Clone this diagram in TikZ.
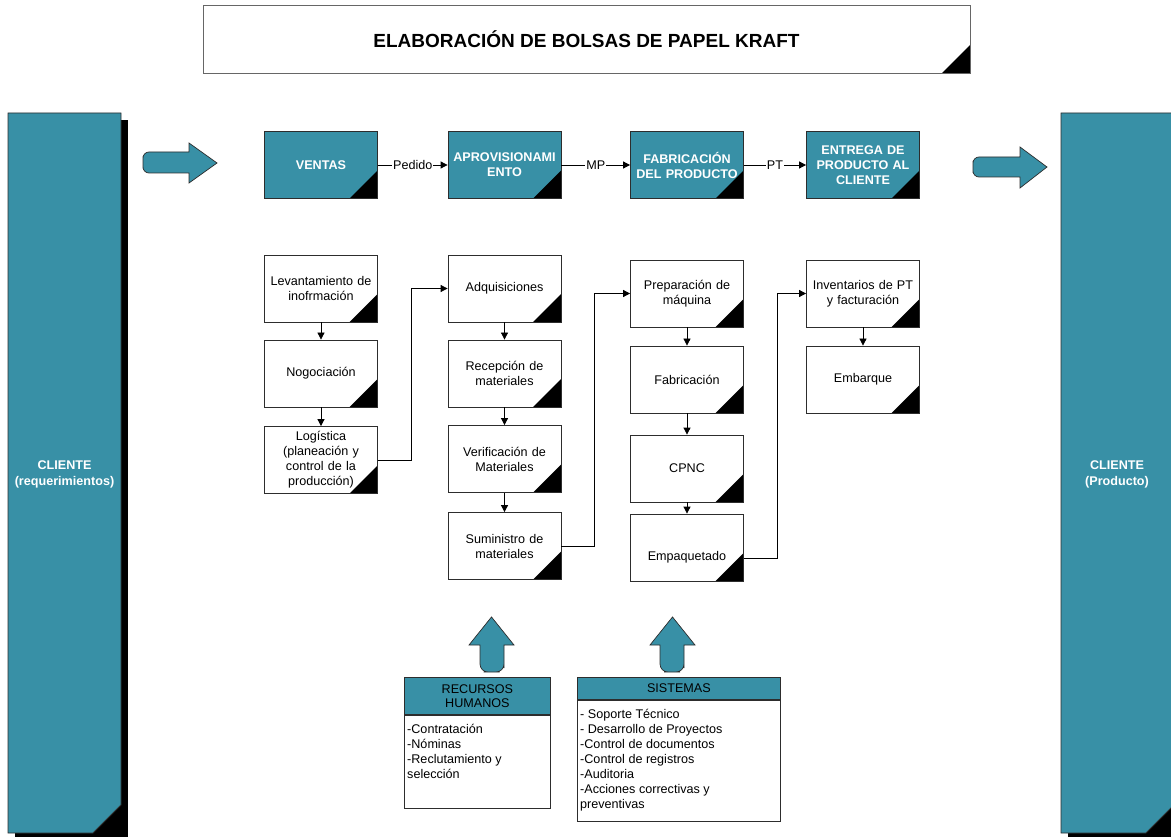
\documentclass[tikz,border=0pt]{standalone}
\usepackage{fontspec}
\setmainfont{Liberation Sans}
\usetikzlibrary{arrows.meta}
\definecolor{tealfill}{RGB}{56,144,166}
\definecolor{edgegray}{RGB}{45,45,45}

\tikzset{
  foldbox/.style={rectangle, draw=edgegray, line width=0.8pt,
    minimum width=113pt, minimum height=67pt, inner sep=2pt,
    text width=109pt, align=center,
    path picture={\fill[black] (path picture bounding box.south east)
      -- ++(-28pt,0pt) -- ++(28pt,28pt) -- cycle;}},
  stagebox/.style={foldbox, fill=tealfill, text=white,
    font=\bfseries\fontsize{12.6}{15}\selectfont},
  taskbox/.style={foldbox, fill=white, font=\fontsize{12.6}{15}\selectfont},
  titlebox/.style={rectangle, draw=gray!80!black, line width=0.8pt, fill=white,
    minimum width=767pt, minimum height=68pt, inner sep=0pt,
    font=\bfseries\fontsize{19}{22}\selectfont,
    path picture={\fill[black] (path picture bounding box.south east)
      -- ++(-28pt,0pt) -- ++(28pt,28pt) -- cycle;}},
  flow/.style={draw=black, line width=0.8pt, -{Triangle[length=7pt,width=7pt]}},
  flowlabel/.style={fill=white, inner sep=1pt, font=\fontsize{12.6}{15}\selectfont},
  blockarrow/.style={fill=tealfill, draw=edgegray, line width=0.7pt},
  clientcol/.style={fill=tealfill, draw=edgegray, line width=0.8pt},
  clienttext/.style={text=white, align=center,
    font=\bfseries\fontsize{12.6}{16}\selectfont},
  headbox/.style={rectangle, draw=edgegray, line width=0.8pt, fill=tealfill,
    inner sep=0pt, align=center, anchor=north west,
    font=\fontsize{12.6}{14}\selectfont},
  bodybox/.style={rectangle, draw=edgegray, line width=0.8pt, fill=white,
    inner sep=0pt, anchor=north west},
  listtext/.style={inner sep=0pt, anchor=north west, align=left,
    font=\fontsize{12.6}{15}\selectfont}
}

\begin{document}
\begin{tikzpicture}[x=1pt,y=-1pt]
\useasboundingbox (0,0) rectangle (1171,837);
\clip (0,0) rectangle (1171,837);

% title
\node[titlebox] (title) at (586.5,39) {ELABORACIÓN DE BOLSAS DE PAPEL KRAFT};

% client columns with drop shadow and folded corner
\fill[black] (15,120) rectangle (128,845);
\draw[clientcol] (8,113) -- (121,113) -- (121,805) -- (93,833) -- (8,833) -- cycle;
\node[clienttext] (clientL) at (64.5,474) {CLIENTE\\(requerimientos)};

\fill[black] (1068,120) rectangle (1185,845);
\draw[clientcol] (1061,113) -- (1174,113) -- (1174,805) -- (1146,833) -- (1061,833) -- cycle;
\node[clienttext] (clientR) at (1117,474) {CLIENTE\\(Producto)};

% entry and exit block arrows
\draw[blockarrow] (143,162.5) [rounded corners=6pt] -- (143,173) -- (170,173)
  [sharp corners] -- (189,173) -- (189,183) -- (217,163) -- (189,143) -- (189,152)
  -- (170,152) [rounded corners=6pt] -- (143,152) -- cycle;
\draw[blockarrow] (973,167) [rounded corners=6pt] -- (973,177) -- (1000,177)
  [sharp corners] -- (1020,177) -- (1020,188) -- (1047,167) -- (1020,147) -- (1020,157)
  -- (1000,157) [rounded corners=6pt] -- (973,157) -- cycle;

% main stages
\node[stagebox] (ventas) at (321,165) {VENTAS};
\node[stagebox] (aprov) at (504.5,165) {APROVISIONAMI\\ENTO};
\node[stagebox] (fabric) at (687,165) {FABRICACIÓN\\DEL PRODUCTO};
\node[stagebox] (entrega) at (863,165) {ENTREGA DE\\PRODUCTO AL\\CLIENTE};

\draw[flow] (ventas) -- node[flowlabel] {Pedido} (aprov);
\draw[flow] (aprov) -- node[flowlabel] {MP} (fabric);
\draw[flow] (fabric) -- node[flowlabel] {PT} (entrega);

% sales activities
\node[taskbox] (lev) at (321,288.5) {Levantamiento de\\inofrmación};
\node[taskbox] (nog) at (321,373.5) {Nogociación};
\node[taskbox] (log) at (321,460) {Logística\\(planeación y\\control de la\\producción)};

% supply activities
\node[taskbox] (adq) at (504.5,288.5) {Adquisiciones};
\node[taskbox] (rec) at (504.5,373.5) {Recepción de\\materiales};
\node[taskbox] (ver) at (504.5,459) {Verificación de\\Materiales};
\node[taskbox] (sum) at (504.5,546) {Suministro de\\materiales};

% manufacturing activities
\node[taskbox] (prep) at (687,293.5) {Preparación de\\máquina};
\node[taskbox] (fab) at (687,379.5) {Fabricación};
\node[taskbox] (cpnc) at (687,468.5) {CPNC};
\node[taskbox] (emp) at (687,547.5) {\raisebox{-10pt}[\height][\depth]{Empaquetado}};

% delivery activities
\node[taskbox] (inv) at (863,293.5) {Inventarios de PT\\y facturación};
\node[taskbox] (emb) at (863,379.5) {Embarque};

% activity flow
\draw[flow] (lev) -- (nog);
\draw[flow] (nog) -- (log);
\draw[flow] (log.east) -- ++(33,0) |- (adq.west);
\draw[flow] (adq) -- (rec);
\draw[flow] (rec) -- (ver);
\draw[flow] (ver) -- (sum);
\draw[flow] (sum.east) -- ++(33,0) |- (prep.west);
\draw[flow] (prep) -- (fab);
\draw[flow] (fab) -- (cpnc);
\draw[flow] (cpnc) -- (emp);
\draw[flow] ([yshift=-10.5pt]emp.east) -- ++(33,0) |- (inv.west);
\draw[flow] (inv) -- (emb);

% support areas
\draw[blockarrow] (491.5,672) [rounded corners=8pt] -- (504,672) -- (504,660)
  [sharp corners] -- (504,645) -- (514,645) -- (491.5,617) -- (469,645) -- (480,645)
  -- (480,660) [rounded corners=8pt] -- (480,672) -- cycle;
\draw[blockarrow] (672,672) [rounded corners=8pt] -- (684,672) -- (684,660)
  [sharp corners] -- (684,645) -- (695,645) -- (672.5,617) -- (650,645) -- (660,645)
  -- (660,660) [rounded corners=8pt] -- (660,672) -- cycle;

\node[headbox, minimum width=146pt, minimum height=37pt] (rhhead) at (404,677) {RECURSOS\\HUMANOS};
\node[bodybox, minimum width=146pt, minimum height=93pt] (rhbody) at (rhhead.south west) {};
\node[listtext] (rhlist) at (407,723) {\strut -Contratación\\-Nóminas\\-Reclutamiento y\\selección};

\node[headbox, minimum width=203pt, minimum height=22pt] (sishead) at (577,677) {SISTEMAS};
\node[bodybox, minimum width=203pt, minimum height=121pt] (sisbody) at (sishead.south west) {};
\node[listtext] (sislist) at (580,708) {\strut - Soporte Técnico\\- Desarrollo de Proyectos\\-Control de documentos\\-Control de registros\\-Auditoria\\-Acciones correctivas y\\preventivas};

\end{tikzpicture}
\end{document}
